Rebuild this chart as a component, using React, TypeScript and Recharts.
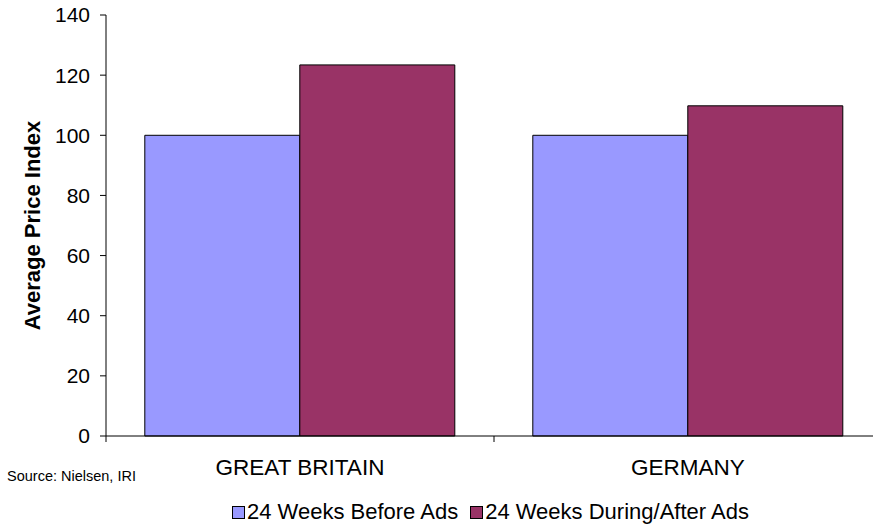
import React from "react";
import { BarChart, Bar, XAxis, YAxis } from "recharts";

const countries = ["GREAT BRITAIN", "GERMANY"];
const beforeAds = [100, 100];
const duringAfterAds = [123.4, 109.8];
const yTicks = [0, 20, 40, 60, 80, 100, 120, 140];

const BEFORE = "24 Weeks Before Ads";
const DURING = "24 Weeks During/After Ads";
const BLUE = "#9999FF";
const PLUM = "#993366";
const FONT = "'Liberation Sans', Arial, sans-serif";

const data = countries.map((c, i) => ({
  country: c,
  [BEFORE]: beforeAds[i],
  [DURING]: duringAfterAds[i],
}));

// half of one category band, used to put the x tick marks between groups
const HALF_BAND = 194;

function CountryTick(props: any) {
  const { x, y, payload } = props;
  const axisY = y - 8;
  return (
    <g>
      <line x1={x - HALF_BAND} y1={axisY} x2={x - HALF_BAND} y2={axisY + 6} stroke="#000" />
      <text x={x} y={axisY + 39} textAnchor="middle" fontSize={22.5} fontFamily={FONT} fill="#000">
        {payload.value}
      </text>
    </g>
  );
}

function YTitle(props: any) {
  const vb = props.viewBox || {};
  const cy = vb.y + vb.height / 2;
  return (
    <text
      x={32}
      y={cy}
      transform={`rotate(-90 32 ${cy})`}
      textAnchor="middle"
      dominantBaseline="central"
      fontSize={22}
      fontWeight="bold"
      fontFamily={FONT}
      fill="#000"
    >
      Average Price Index
    </text>
  );
}

function LegendItem({ color, label }: { color: string; label: string }) {
  return (
    <span style={{ display: "inline-flex", alignItems: "center", marginRight: 12 }}>
      <span
        style={{
          width: 11,
          height: 11,
          background: color,
          border: "1px solid #000",
          marginRight: 2,
          display: "inline-block",
        }}
      />
      {label}
    </span>
  );
}

export default function App() {
  return (
    <div
      style={{
        position: "fixed",
        left: 0,
        top: 0,
        width: 873,
        height: 527,
        overflow: "hidden",
        background: "#fff",
        fontFamily: FONT,
      }}
    >
      <BarChart
        width={890}
        height={527}
        data={data}
        margin={{ top: 15, right: 8, bottom: 51, left: 0 }}
        barCategoryGap="10%"
        barGap={0}
      >
        <YAxis
          width={106}
          domain={[0, 140]}
          ticks={yTicks}
          interval={0}
          tickSize={6}
          tickMargin={10}
          axisLine={{ stroke: "#000" }}
          tickLine={{ stroke: "#000" }}
          tick={{ fill: "#000", fontSize: 21, fontFamily: FONT }}
          label={<YTitle />}
        />
        <XAxis
          dataKey="country"
          height={40}
          axisLine={{ stroke: "#000" }}
          tickLine={false}
          tickSize={0}
          tickMargin={8}
          interval={0}
          tick={<CountryTick />}
        />
        <Bar dataKey={BEFORE} fill={BLUE} stroke="#000" strokeWidth={1} isAnimationActive={false} />
        <Bar dataKey={DURING} fill={PLUM} stroke="#000" strokeWidth={1} isAnimationActive={false} />
      </BarChart>
      <div
        style={{
          position: "absolute",
          left: 7,
          top: 468,
          fontSize: 14.5,
          color: "#000",
        }}
      >
        Source: Nielsen, IRI
      </div>
      <div
        style={{
          position: "absolute",
          left: 232,
          top: 499,
          fontSize: 22,
          color: "#000",
          whiteSpace: "nowrap",
          display: "flex",
          alignItems: "center",
        }}
      >
        <LegendItem color={BLUE} label={BEFORE} />
        <LegendItem color={PLUM} label={DURING} />
      </div>
    </div>
  );
}
